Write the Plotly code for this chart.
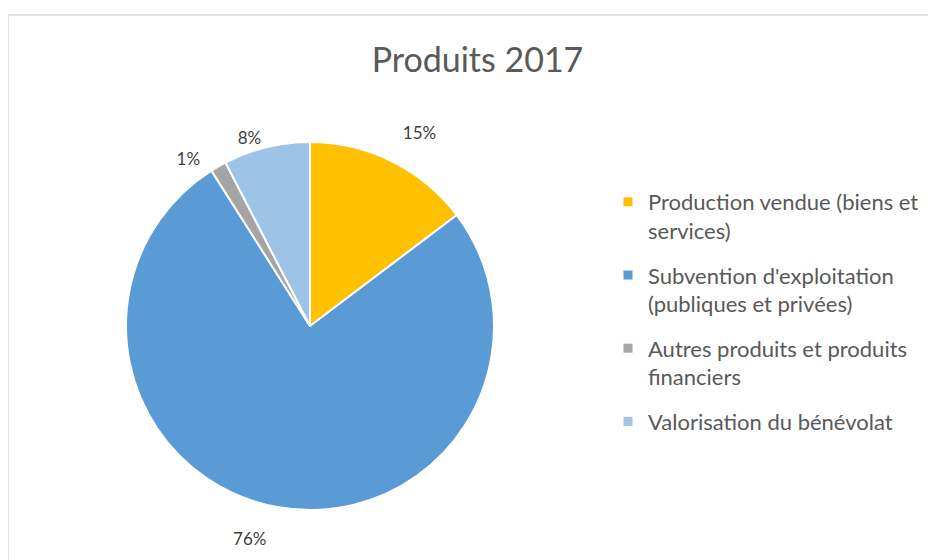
import plotly.graph_objects as go

categories = [
    "Production vendue (biens et<br>services)",
    "Subvention d'exploitation<br>(publiques et privées)",
    "Autres produits et produits<br>financiers",
    "Valorisation du bénévolat",
]
values = [14.7, 76.3, 1.4, 7.6]
colors = ["#FFC000", "#5B9BD5", "#A5A5A5", "#9DC3E6"]

W, H = 936, 560
OFF = 8  # page body margin offset
FONT = "Lato, 'Open Sans', sans-serif"
NB = "\u00a0"


def px(x):
    return (x - OFF) / W


def py(y):
    return 1 - (y - OFF) / H


# outside labels pushed a little away from the pie, as in the original
label_templates = [
    "%{percent:.0%}<br>" + NB,
    NB + "<br>%{percent:.0%}",
    "%{percent:.0%}" + NB * 3,
    "%{percent:.0%}",
]

fig = go.Figure()
fig.add_trace(
    go.Pie(
        labels=categories,
        values=values,
        sort=False,
        direction="clockwise",
        rotation=0,
        marker=dict(colors=colors, line=dict(color="white", width=2)),
        textposition="outside",
        texttemplate=label_templates,
        textfont=dict(family=FONT, size=17, color="#404040"),
        domain=dict(x=[px(126), px(494)], y=[py(510), py(142)]),
        hoverinfo="label+percent",
        showlegend=False,
    )
)

# legend entries (one per category, grouped so that groups get spacing)
for i, (lab, col) in enumerate(zip(categories, colors)):
    fig.add_trace(
        go.Scatter(
            x=[None],
            y=[None],
            mode="markers",
            name=lab,
            legendgroup=f"g{i}",
            marker=dict(symbol="square", size=9, color=col),
            showlegend=True,
            hoverinfo="skip",
        )
    )

fig.update_layout(
    width=W,
    height=H,
    margin=dict(l=0, r=0, t=0, b=0),
    paper_bgcolor="white",
    plot_bgcolor="white",
    xaxis=dict(visible=False),
    yaxis=dict(visible=False),
    title=dict(
        text="Produits 2017",
        font=dict(family=FONT, size=34, color="#595959"),
        x=px(477.5),
        xanchor="center",
        y=py(60),
        yanchor="middle",
        yref="container",
    ),
    legend=dict(
        x=px(608),
        xanchor="left",
        y=py(181),
        yanchor="top",
        valign="top",
        tracegroupgap=13,
        font=dict(family=FONT, size=22, color="#595959"),
        bgcolor="rgba(0,0,0,0)",
    ),
    shapes=[
        dict(
            type="rect",
            xref="paper",
            yref="paper",
            x0=px(8),
            x1=1.2,
            y0=py(15),
            y1=-0.2,
            line=dict(color="#D9D9D9", width=1.5),
            fillcolor="rgba(0,0,0,0)",
            layer="below",
        )
    ],
)

fig.write_html("out.html")
